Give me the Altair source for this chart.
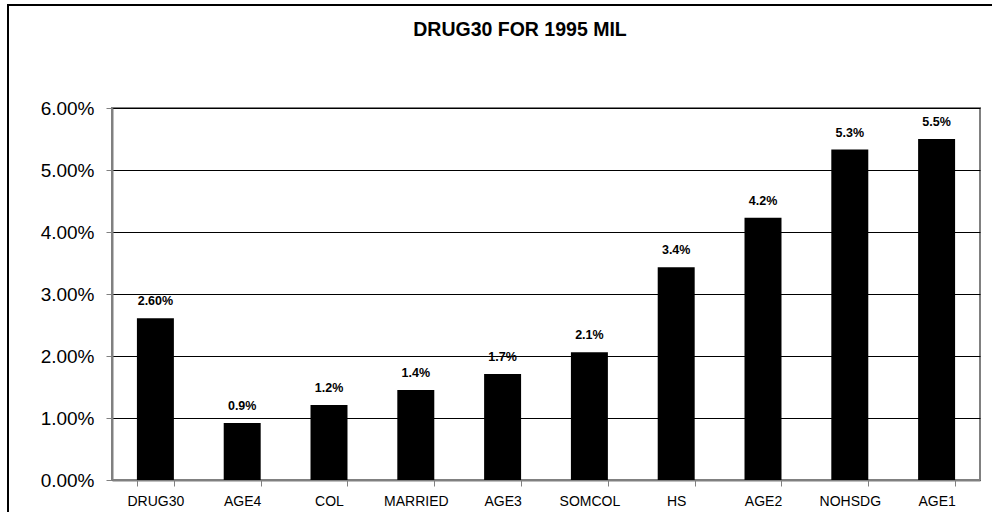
import altair as alt
import pandas as pd

categories = ["DRUG30", "AGE4", "COL", "MARRIED", "AGE3", "SOMCOL", "HS", "AGE2", "NOHSDG", "AGE1"]
values = [0.0261, 0.0092, 0.0121, 0.0145, 0.0171, 0.0206, 0.0343, 0.0423, 0.0533, 0.0550]
labels = ["2.60%", "0.9%", "1.2%", "1.4%", "1.7%", "2.1%", "3.4%", "4.2%", "5.3%", "5.5%"]
y_ticks = [0.0, 0.01, 0.02, 0.03, 0.04, 0.05, 0.06]
title_text = "DRUG30 FOR 1995 MIL"

FONT = "Liberation Sans"
GRAY = "#808080"

df = pd.DataFrame({"cat": categories, "val": values, "lab": labels})

x = alt.X("cat:N", sort=categories,
          scale=alt.Scale(paddingInner=0.574, paddingOuter=0.287),
          axis=alt.Axis(title=None, labelAngle=0, tickBand="extent",
                        labelFontSize=14, labelPadding=8, tickSize=6,
                        tickColor=GRAY, domainColor=GRAY, domainWidth=2,
                        labelColor="black", labelFont=FONT))
y = alt.Y("val:Q", scale=alt.Scale(domain=[0, 0.06], nice=False),
          axis=alt.Axis(title=None, values=y_ticks, format=".2%",
                        labelFontSize=19, labelPadding=12, tickSize=6,
                        tickColor=GRAY, domainColor=GRAY, domainWidth=2,
                        grid=True, gridColor="black", gridWidth=1,
                        labelColor="black", labelFont=FONT))

base = alt.Chart(df)
bars = base.mark_bar(color="black").encode(x=x, y=y)
texts = base.mark_text(font=FONT, fontSize=12.5, fontWeight="bold",
                       baseline="alphabetic", dy=-13, color="black").encode(
    x=alt.X("cat:N", sort=categories), y="val:Q", text="lab:N")

title = alt.Chart(pd.DataFrame({"t": [title_text]})).mark_text(
    font=FONT, fontSize=19.5, fontWeight="bold", color="black",
    align="center", baseline="middle").encode(
    text="t:N", x=alt.value(408), y=alt.value(-78))

one = pd.DataFrame({"a": [0]})
border_top = alt.Chart(one).mark_rule(color="black", strokeWidth=2, clip=False).encode(
    x=alt.value(-104), x2=alt.value(880), y=alt.value(-103))
border_left = alt.Chart(one).mark_rule(color="black", strokeWidth=2, clip=False).encode(
    x=alt.value(-104), y=alt.value(-104), y2=alt.value(404))

chart = alt.layer(border_top, border_left, bars, texts, title).properties(
    width=868, height=372,
    autosize=alt.AutoSizeParams(type="none"),
    padding={"left": 112, "top": 108, "right": 12, "bottom": 32},
    background="white",
).configure_view(stroke=GRAY, strokeWidth=2)

chart.save("out.html", embed_options={"renderer": "svg", "actions": False})
